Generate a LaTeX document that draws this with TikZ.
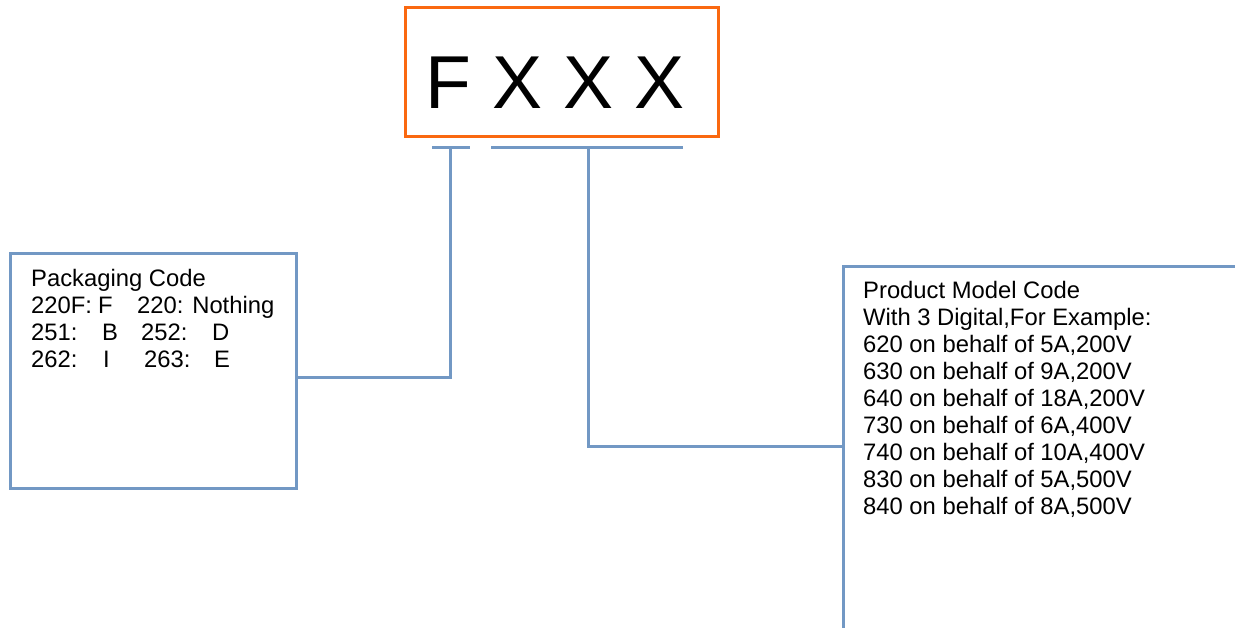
\documentclass[tikz,border=0pt]{standalone}
\usepackage{fontspec}
\setmainfont{Liberation Sans}
\definecolor{boxblue}{RGB}{114,152,196}
\definecolor{boxorange}{RGB}{250,104,16}
\newcommand{\putat}[2]{\rlap{\hspace*{#1}#2}}
\begin{document}
\begin{tikzpicture}[x=1pt,y=-1pt,
  bluebox/.style={draw=boxblue,line width=3pt,rectangle,inner sep=0pt,anchor=north west},
  bluelink/.style={draw=boxblue,line width=3pt},
  bodytext/.style={anchor=north west,inner sep=0pt,align=left,font=\fontsize{23.8}{27}\selectfont}]
\useasboundingbox (0,0) rectangle (1235,627);
% title box
\node[draw=boxorange,line width=3pt,rectangle,minimum width=313pt,minimum height=129pt,anchor=north west,inner sep=0pt] (title) at (404,6) {};
\node[font=\fontsize{75}{80}\selectfont,anchor=base] (code) at (555,108) {F X X X};
% bracket lines
\coordinate (fa) at (432,147);
\coordinate (fb) at (470,147);
\coordinate (fm) at (450,147);
\coordinate (xa) at (491,147);
\coordinate (xb) at (683,147);
\coordinate (xm) at (588,147);
\draw[bluelink] (fa) -- (fb);
\draw[bluelink] (xa) -- (xb);
% left box
\node[bluebox,minimum width=286pt,minimum height=235pt] (pack) at (9,252) {};
\node[bodytext] (packtext) at (31,269) {Packaging Code\\
\mbox{\putat{0pt}{220F:}\putat{67pt}{F}\putat{106pt}{220: Nothing}}\\
\mbox{\putat{0pt}{251:}\putat{71pt}{B}\putat{110pt}{252:}\putat{181pt}{D}}\\
\mbox{\putat{0pt}{262:}\putat{72pt}{I}\putat{113pt}{263:}\putat{183pt}{E}}};
% right box
\node[bluebox,minimum width=393pt,minimum height=380pt] (model) at (842,265) {};
\node[bodytext] (modeltext) at (863,281) {Product Model Code\\
With 3 Digital,For Example:\\
620 on behalf of 5A,200V\\
630 on behalf of 9A,200V\\
640 on behalf of 18A,200V\\
730 on behalf of 6A,400V\\
740 on behalf of 10A,400V\\
830 on behalf of 5A,500V\\
840 on behalf of 8A,500V};
% connectors
\coordinate (pj) at (pack.east |- 0,377);
\coordinate (mj) at (model.west |- 0,446);
\draw[bluelink] (fm) |- (pj);
\draw[bluelink] (xm) |- (mj);
\end{tikzpicture}
\end{document}
